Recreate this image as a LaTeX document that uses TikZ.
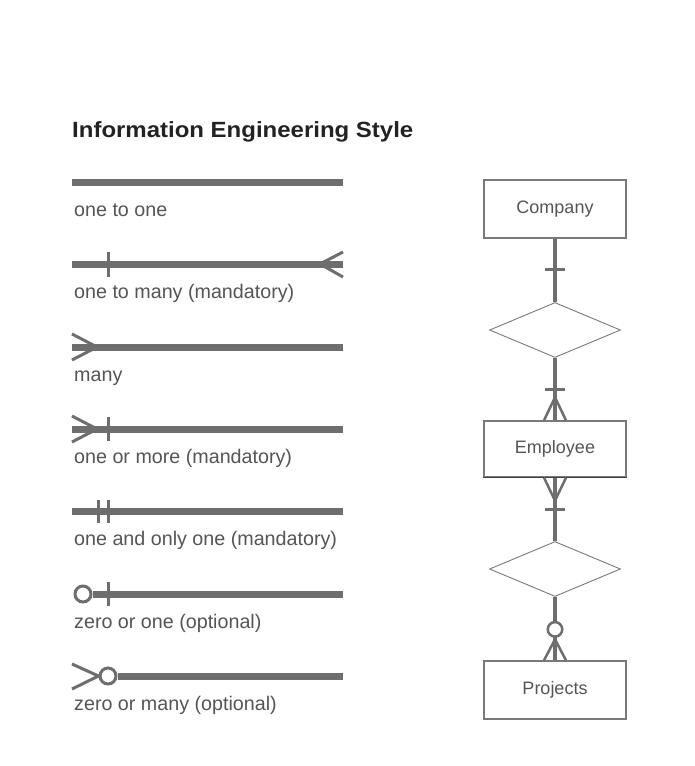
\documentclass[tikz,border=0pt]{standalone}
\usepackage{fontspec}
\setmainfont{Liberation Sans}
\newfontfamily\titlefont{Liberation Sans}[FakeStretch=1.09]
\usetikzlibrary{shapes.geometric}
\definecolor{lineg}{HTML}{6E6E6E}
\definecolor{textg}{HTML}{555555}
\definecolor{boxg}{HTML}{7A7A7A}
\definecolor{titleg}{HTML}{222222}
\begin{document}
\begin{tikzpicture}[x=1pt,y=-1pt,
  legline/.style={line width=7pt, lineg},
  legthin/.style={line width=3pt, lineg},
  leglabel/.style={anchor=base west, inner sep=0, text=textg, font=\fontsize{19.7}{24}\selectfont},
  entity/.style={draw=boxg, line width=1.3pt, minimum width=142pt, inner sep=0, text=textg, font=\fontsize{18}{22}\selectfont},
  rel/.style={diamond, draw=boxg, line width=0.9pt, minimum width=131pt, minimum height=55pt, inner sep=0},
  erline/.style={line width=4pt, lineg},
  erthin/.style={line width=2.5pt, lineg},
  ring/.style={circle, draw=lineg, fill=white, line width=3pt, minimum size=16pt, inner sep=0},
]
\fill[white] (0,0) rectangle (694,766);
\useasboundingbox (0,0) rectangle (694,766);

% title
\node[anchor=base west, inner sep=0, text=titleg, font=\titlefont\bfseries\fontsize{22}{26}\selectfont] (title) at (72,137) {Information Engineering Style};

% legend 1: one to one
\draw[legline] (72,182) -- (343,182);
\node[leglabel] (lab1) at (74,216) {one to one};

% legend 2: one to many (mandatory)
\draw[legline] (72,264) -- (343,264);
\draw[legthin] (108,252) -- (108,277);
\draw[legthin] (343,252) -- (320,264) -- (343,277);
\node[leglabel] (lab2) at (74,298) {one to many (mandatory)};

% legend 3: many
\draw[legline] (72,347) -- (343,347);
\draw[legthin] (72,334) -- (97,347) -- (72,360);
\node[leglabel] (lab3) at (74,381) {many};

% legend 4: one or more (mandatory)
\draw[legline] (72,429) -- (343,429);
\draw[legthin] (72,416) -- (97,429) -- (72,442);
\draw[legthin] (108,417) -- (108,441);
\node[leglabel] (lab4) at (74,463) {one or more (mandatory)};

% legend 5: one and only one (mandatory)
\draw[legline] (72,511) -- (343,511);
\draw[legthin] (98,500) -- (98,523);
\draw[legthin] (108,500) -- (108,523);
\node[leglabel] (lab5) at (74,545) {one and only one (mandatory)};

% legend 6: zero or one (optional)
\node[ring] (c6) at (83,594) {};
\draw[legline] (c6.east) -- (343,594);
\draw[legthin] (108,582) -- (108,606);
\node[leglabel] (lab6) at (74,628) {zero or one (optional)};

% legend 7: zero or many (optional)
\node[ring] (c7) at (108,676) {};
\draw[legline] (c7.east) -- (343,676);
\draw[legthin] (72,664) -- (c7.west) -- (72,689);
\node[leglabel] (lab7) at (74,710) {zero or many (optional)};

% ER diagram
\node[entity, minimum height=58pt] (company) at (555,209) {Company};
\node[rel] (d1) at (555,330) {};
\node[entity, minimum height=56pt] (employee) at (555,449) {Employee};
\node[rel] (d2) at (555,569) {};
\node[entity, minimum height=58pt] (projects) at (555,690) {Projects};
\draw[line width=1.3pt, black!75] (employee.south west) -- (employee.south east);

% Company -- d1 : one
\draw[erline] (company.south) -- (d1.north);
\path (company.south) ++(0,31) coordinate (t1);
\draw[erthin] ([xshift=-10pt]t1) -- ([xshift=10pt]t1);

% d1 -- Employee : one or more
\draw[erline] (d1.south) -- (employee.north);
\path (employee.north) ++(0,-31) coordinate (t2);
\draw[erthin] ([xshift=-10pt]t2) -- ([xshift=10pt]t2);
\path (employee.north) ++(0,-23) coordinate (a2);
\draw[erthin] ([xshift=-11pt]employee.north) -- (a2) -- ([xshift=11pt]employee.north);

% Employee -- d2 : one or more
\draw[erline] (employee.south) -- (d2.north);
\path (employee.south) ++(0,32) coordinate (t3);
\draw[erthin] ([xshift=-10pt]t3) -- ([xshift=10pt]t3);
\path (employee.south) ++(0,23) coordinate (a3);
\draw[erthin] ([xshift=-11pt]employee.south) -- (a3) -- ([xshift=11pt]employee.south);

% d2 -- Projects : zero or many
\draw[erline] (d2.south) -- (projects.north);
\path (projects.north) ++(0,-31) coordinate (c8pos);
\node[ring, line width=2.5pt, minimum size=14.5pt] (c8) at (c8pos) {};
\path (projects.north) ++(0,-21) coordinate (a4);
\draw[erthin] ([xshift=-11pt]projects.north) -- (a4) -- ([xshift=11pt]projects.north);
\end{tikzpicture}
\end{document}
